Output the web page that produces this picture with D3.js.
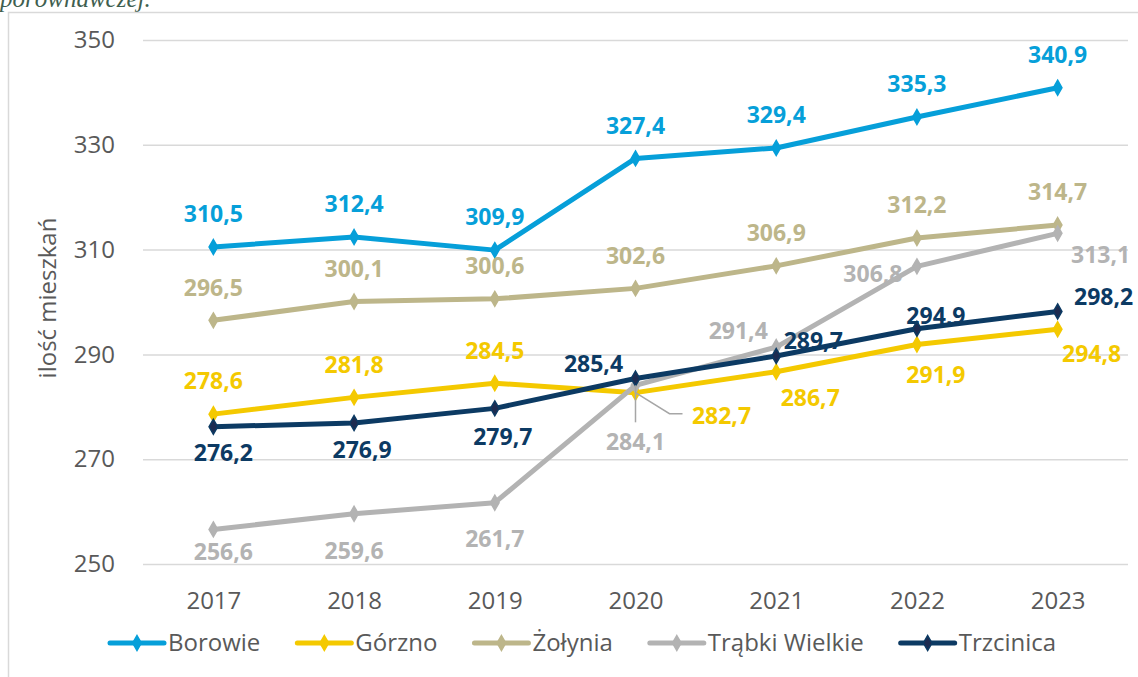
<!DOCTYPE html>
<html lang="pl">
<head>
<meta charset="utf-8">
<script src="https://cdn.jsdelivr.net/npm/d3@7"></script>
<style>
  html, body { margin: 0; padding: 0; background: #ffffff; }
  svg { display: block; }
</style>
</head>
<body>
<svg id="chart" width="1138" height="677"></svg>
<script>
// Liczba mieszkań na 1000 mieszkańców w latach 2017–2023
const years = ["2017", "2018", "2019", "2020", "2021", "2022", "2023"];
const seriesNames = ["Borowie", "Górzno", "Żołynia", "Trąbki Wielkie", "Trzcinica"];
const borowie = [310.5, 312.4, 309.9, 327.4, 329.4, 335.3, 340.9];
const gorzno = [278.6, 281.8, 284.5, 282.7, 286.7, 291.9, 294.8];
const zolynia = [296.5, 300.1, 300.6, 302.6, 306.9, 312.2, 314.7];
const trabkiWielkie = [256.6, 259.6, 261.7, 284.1, 291.4, 306.8, 313.1];
const trzcinica = [276.2, 276.9, 279.7, 285.4, 289.7, 294.9, 298.2];
const yTicks = [250, 270, 290, 310, 330, 350];
const axisTitle = "ilość mieszkań";
const headingTail = "porównawczej.";

// Appearance of each series
const colors = ["#069fd9", "#f4c900", "#bdb68a", "#b3b3b3", "#0c3a63"];
const markerFills = ["#069fd9", "#f4c900", "#bdb68a", "#b3b3b3", "#1d2b50"];

// Data label placement relative to each point [dx, dy]
const labelOffsets = [
  [[0, -33], [0, -33], [0, -33], [0, -33], [0, -33], [0, -33], [0, -33]],
  [[0, -33], [0, -33], [0, -33], [86, 23], [34, 26], [19, 30], [34, 24]],
  [[0, -33], [0, -33], [0, -33], [0, -33], [0, -33], [0, -33], [0, -33]],
  [[10, 22], [0, 37], [0, 36], [0, 56], [-38, -16], [-44, 7], [43, 21]],
  [[10, 26], [8, 27], [8, 28], [-42, -15], [37, -15], [19, -13], [46, -15]]
];

const seriesValues = [borowie, gorzno, zolynia, trabkiWielkie, trzcinica];
const series = seriesNames.map((name, i) => ({
  name, color: colors[i], marker: markerFills[i],
  points: years.map((yr, j) => ({ year: yr, value: seriesValues[i][j], off: labelOffsets[i][j] }))
}));

const svg = d3.select("#chart");
const FONT = "'Open Sans', 'DejaVu Sans', sans-serif";
const fmt = v => d3.format(".1f")(v).replace(".", ",");

const plot = { left: 143, right: 1128, top: 40, bottom: 564 };

const x = d3.scalePoint().domain(years).range([plot.left, plot.right]).padding(0.5);
const y = d3.scaleLinear().domain([250, 350]).range([plot.bottom, plot.top]);

// heading fragment above the chart frame
svg.append("text")
  .attr("x", 0).attr("y", 7)
  .attr("font-family", "'Liberation Serif', 'DejaVu Serif', serif")
  .attr("font-style", "italic")
  .attr("font-size", 25)
  .attr("fill", "#3f5f50")
  .text(headingTail);

// chart frame
svg.append("path")
  .attr("d", "M8.5,677 V12.5 H1138")
  .attr("fill", "none")
  .attr("stroke", "#d9d9d9")
  .attr("stroke-width", 1.5);

// gridlines and y tick labels
const yAxis = d3.axisLeft(y).tickValues(yTicks).tickSize(-(plot.right - plot.left)).tickPadding(28).tickFormat(d3.format("d"));
const gY = svg.append("g").attr("transform", `translate(${plot.left},0)`).call(yAxis);
gY.select(".domain").remove();
gY.selectAll(".tick line").attr("stroke", "#d9d9d9").attr("stroke-width", 1.5);
gY.selectAll(".tick text").attr("font-family", FONT).attr("font-size", 24).attr("fill", "#595959");

// x axis labels
const xAxis = d3.axisBottom(x).tickSize(0).tickPadding(28);
const gX = svg.append("g").attr("transform", `translate(0,${plot.bottom})`).call(xAxis);
gX.select(".domain").remove();
gX.selectAll(".tick text").attr("font-family", FONT).attr("font-size", 24).attr("fill", "#595959");

// axis title
svg.append("text")
  .attr("transform", `translate(48,298) rotate(-90)`)
  .attr("text-anchor", "middle")
  .attr("dy", "0.35em")
  .attr("font-family", FONT).attr("font-size", 24).attr("fill", "#595959")
  .text(axisTitle);

const line = d3.line().x(d => x(d.year)).y(d => y(d.value));
const diamond = d3.symbol().type(d3.symbolDiamond).size(64);

// lines and markers
const gSeries = svg.append("g").selectAll("g").data(series).join("g");
gSeries.append("path")
  .attr("d", d => line(d.points))
  .attr("fill", "none")
  .attr("stroke", d => d.color)
  .attr("stroke-width", 5)
  .attr("stroke-linejoin", "round")
  .attr("stroke-linecap", "round");
gSeries.selectAll("path.mk").data(d => d.points.map(p => ({ ...p, s: d }))).join("path")
  .attr("class", "mk")
  .attr("d", diamond)
  .attr("transform", d => `translate(${x(d.year)},${y(d.value)})`)
  .attr("fill", d => d.s.marker)
  .attr("stroke", d => d.s.color)
  .attr("stroke-width", 1.5);

// leader lines for labels pushed away from the 2020 crossing
const leaderColor = "#a6a6a6";
const gL = svg.append("g").attr("stroke", leaderColor).attr("stroke-width", 1.5).attr("fill", "none");
{
  const p = series[1].points[3];
  const px = x(p.year), py = y(p.value);
  gL.append("polyline").attr("points", `${px},${py} ${px + 34},${py + 21} ${px + 47},${py + 21}`);
}
{
  const p = series[3].points[3];
  const px = x(p.year), py = y(p.value);
  gL.append("line").attr("x1", px).attr("y1", py).attr("x2", px).attr("y2", py + 37);
}

// data labels
const gLab = svg.append("g");
series.forEach(s => {
  gLab.selectAll(null).data(s.points).join("text")
    .attr("x", d => x(d.year) + d.off[0])
    .attr("y", d => y(d.value) + d.off[1])
    .attr("dy", "0.36em")
    .attr("text-anchor", "middle")
    .attr("font-family", FONT).attr("font-weight", 700).attr("font-size", 23)
    .attr("fill", s.color)
    .text(d => fmt(d.value));
});

// legend
const legend = svg.append("g").attr("transform", "translate(110,643)");
let lx = 0;
series.forEach(s => {
  const g = legend.append("g").attr("transform", `translate(${lx},0)`);
  g.append("line").attr("x1", 0).attr("x2", 54).attr("y1", 0).attr("y2", 0)
    .attr("stroke", s.color).attr("stroke-width", 5).attr("stroke-linecap", "round");
  g.append("path").attr("d", diamond).attr("transform", "translate(27,0)")
    .attr("fill", s.marker).attr("stroke", s.color).attr("stroke-width", 1.5);
  const t = g.append("text").attr("x", 58).attr("y", 0).attr("dy", "0.35em")
    .attr("font-family", FONT).attr("font-size", 24).attr("fill", "#595959")
    .text(s.name);
  lx += 58 + t.node().getComputedTextLength() + 37;
});
</script>
</body>
</html>
